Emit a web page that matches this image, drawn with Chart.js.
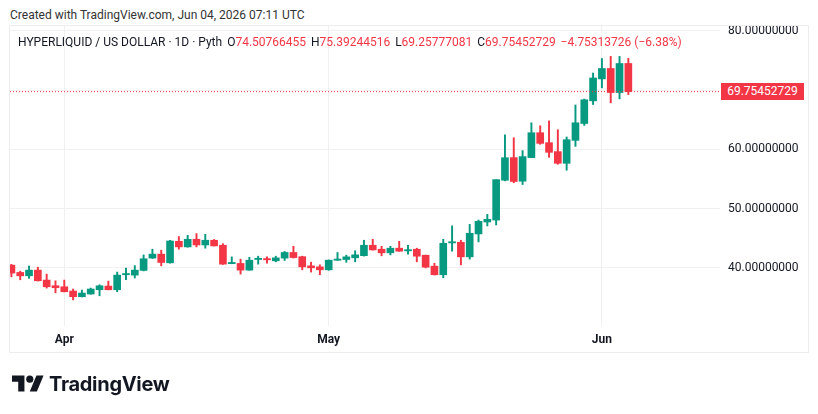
<!DOCTYPE html>
<html>
<head>
<meta charset="utf-8">
<title>HYPERLIQUID / US DOLLAR · 1D</title>
<script src="https://cdn.jsdelivr.net/npm/chart.js@4.4.1/dist/chart.umd.min.js"></script>
<style>
  html, body { margin: 0; padding: 0; background: #ffffff; }
  body { width: 818px; height: 414px; position: relative; overflow: hidden;
         font-family: Roboto, "Noto Sans", sans-serif; color: #131722; }
  #wrap { position: absolute; left: 0; top: 0; width: 818px; height: 414px; }
  #frame { position: absolute; left: 9px; top: 25px; width: 800px; height: 328px;
           box-sizing: border-box; border: 1px solid #ededed; pointer-events: none; }
  #created { position: absolute; left: 10px; top: 8px; font-size: 12px; color: #333; white-space: nowrap; }
  #legend { position: absolute; left: 18px; top: 35px; font-size: 12px; white-space: nowrap; }
  #legend .v { color: #f23645; }
  #legend .g { margin-left: 2px; }
  #lastPrice { position: absolute; left: 721px; width: 83px; height: 17px; line-height: 17px;
               background: #f23645; color: #fff; font-size: 12px; text-align: center; }
  #logo { position: absolute; left: 12px; top: 371px; height: 26px; display: flex; align-items: center; }
  #logo span { font-family: Inter, sans-serif; font-weight: 700; font-size: 20px; letter-spacing: -0.3px;
               color: #131722; margin-left: 5px; }
</style>
</head>
<body>
<div id="created">Created with TradingView.com, Jun 04, 2026 07:11 UTC</div>
<div id="wrap"><canvas id="chart" width="818" height="414"></canvas></div>
<div id="frame"></div>
<div id="legend">HYPERLIQUID / US DOLLAR · 1D · Pyth
  <span class="g">O</span><span class="v">74.50766455</span>
  <span class="g">H</span><span class="v">75.39244516</span>
  <span class="g">L</span><span class="v">69.25777081</span>
  <span class="g">C</span><span class="v">69.75452729</span>
  <span class="v g">−4.75313726 (−6.38%)</span></div>
<div id="lastPrice">69.75452729</div>
<div id="logo">
  <svg width="32" height="25" viewBox="0 0 36 28"><path fill="#131722" d="M14 22H7V11H0V4h14v18zM28 22h-8l7.5-18h8L28 22z"/><circle fill="#131722" cx="20" cy="8" r="4"/></svg>
  <span>TradingView</span>
</div>
<script>
(function () {
  "use strict";

  /* ── daily candles, Mar 26 → Jun 04 ── */
  const DATES = [
    "Mar 26", "Mar 27", "Mar 28", "Mar 29", "Mar 30", "Mar 31",
    "Apr 01", "Apr 02", "Apr 03", "Apr 04", "Apr 05", "Apr 06", "Apr 07", "Apr 08", "Apr 09", "Apr 10",
    "Apr 11", "Apr 12", "Apr 13", "Apr 14", "Apr 15", "Apr 16", "Apr 17", "Apr 18", "Apr 19", "Apr 20",
    "Apr 21", "Apr 22", "Apr 23", "Apr 24", "Apr 25", "Apr 26", "Apr 27", "Apr 28", "Apr 29", "Apr 30",
    "May 01", "May 02", "May 03", "May 04", "May 05", "May 06", "May 07", "May 08", "May 09", "May 10",
    "May 11", "May 12", "May 13", "May 14", "May 15", "May 16", "May 17", "May 18", "May 19", "May 20",
    "May 21", "May 22", "May 23", "May 24", "May 25", "May 26", "May 27", "May 28", "May 29", "May 30",
    "May 31", "Jun 01", "Jun 02", "Jun 03", "Jun 04"
  ];
  const OPEN = [
    40.47, 39.24, 38.67, 39.63, 37.95, 37.00,
    36.82, 36.10, 35.14, 35.60, 36.32, 36.94, 36.32, 38.85, 38.79, 39.58,
    41.66, 42.33, 40.86, 44.50, 43.55, 44.84, 43.88, 44.67, 43.83, 40.72,
    40.76, 39.63, 41.43, 41.53, 41.20, 41.66, 42.61, 41.90, 40.35, 40.18,
    39.68, 41.30, 41.42, 41.71, 42.07, 43.83, 43.16, 42.55, 43.33, 42.88,
    43.16, 42.15, 40.30, 38.85, 44.22, 44.33, 41.87, 45.74, 47.75, 48.08,
    54.80, 58.62, 54.64, 58.62, 62.82, 61.14, 59.63, 57.66, 61.53, 64.38,
    68.20, 71.90, 73.66, 69.60, 74.50766455
  ];
  const HIGH = [
    40.60, 39.46, 40.33, 40.13, 38.96, 37.83,
    37.95, 36.44, 36.27, 36.60, 37.16, 37.78, 39.30, 39.97, 40.40, 42.20,
    43.16, 43.00, 44.66, 45.30, 45.50, 45.80, 45.68, 44.80, 44.10, 41.87,
    41.48, 41.80, 41.98, 41.87, 41.98, 42.78, 43.66, 41.98, 40.97, 40.52,
    41.35, 42.60, 42.15, 42.90, 44.67, 44.84, 43.66, 43.66, 44.50, 43.83,
    43.33, 42.15, 40.80, 44.84, 47.10, 44.67, 47.35, 48.08, 49.04, 54.90,
    62.47, 61.97, 59.80, 64.50, 64.00, 64.82, 63.32, 62.10, 67.50, 68.50,
    72.90, 75.34, 75.70, 75.70, 75.39244516
  ];
  const LOW = [
    38.50, 38.00, 38.24, 37.80, 36.60, 35.80,
    35.96, 34.60, 35.10, 35.55, 35.30, 36.30, 35.98, 38.00, 38.30, 39.50,
    41.60, 40.35, 40.80, 43.16, 43.50, 43.55, 43.33, 43.70, 40.60, 40.70,
    38.96, 39.60, 40.64, 40.80, 41.03, 41.26, 41.66, 39.68, 39.30, 38.85,
    39.60, 41.28, 40.95, 41.03, 42.00, 43.00, 42.05, 42.20, 42.80, 42.32,
    41.03, 40.00, 38.80, 38.34, 42.83, 40.52, 41.48, 44.39, 47.08, 47.25,
    54.70, 54.37, 54.08, 58.60, 60.86, 58.67, 57.50, 56.49, 60.52, 64.05,
    67.58, 70.39, 67.86, 68.54, 69.25777081
  ];
  const CLOSE = [
    39.13, 38.67, 39.63, 37.83, 36.82, 36.66,
    35.98, 35.14, 35.76, 36.44, 36.99, 36.32, 38.79, 38.96, 39.63, 41.55,
    42.33, 40.92, 44.55, 43.55, 44.84, 43.88, 44.67, 43.72, 40.64, 40.84,
    39.63, 41.30, 41.53, 41.37, 41.70, 42.61, 41.75, 40.18, 40.02, 39.68,
    41.31, 41.42, 41.87, 42.21, 43.83, 43.04, 42.55, 43.33, 42.83, 42.99,
    41.98, 40.13, 38.85, 44.16, 44.40, 41.87, 45.85, 47.87, 48.20, 54.90,
    58.60, 54.59, 58.79, 62.82, 61.02, 59.51, 57.66, 61.64, 64.50, 68.38,
    72.06, 73.66, 69.60, 74.50, 69.75452729
  ];
  const LAST_PRICE = 69.75452729;

  const MONTH_TICKS = [6, 36, 67];
  const MONTH_LABELS = ["Apr", "May", "Jun"];
  const PRICE_TICKS = [40, 50, 60, 70, 80];

  /* ── colours ── */
  const UP = "#089981";
  const DOWN = "#f23645";
  const GRID = "#f0f0f0";

  function colorOf(i) { return CLOSE[i] >= OPEN[i] ? UP : DOWN; }

  var bodies = DATES.map(function (d, i) { return { x: i, y: [OPEN[i], CLOSE[i]] }; });
  var wicks = DATES.map(function (d, i) { return { x: i, y: [LOW[i], HIGH[i]] }; });
  var colors = DATES.map(function (d, i) { return colorOf(i); });

  var X_MIN = -0.16, X_MAX = 80.4;

  // keeps the HTML last-price tag on the price scale
  var lastPriceTag = {
    id: "lastPriceTag",
    afterDraw: function (chart) {
      var y = chart.scales.y.getPixelForValue(LAST_PRICE);
      document.getElementById("lastPrice").style.top = (y - 8.5) + "px";
    }
  };

  new Chart(document.getElementById("chart").getContext("2d"), {
    type: "bar",
    data: {
      datasets: [
        {
          type: "line",
          data: [{ x: X_MIN, y: LAST_PRICE }, { x: X_MAX, y: LAST_PRICE }],
          borderColor: DOWN,
          borderWidth: 1,
          borderDash: [1, 2],
          pointRadius: 0,
          order: 0,
        },
        {
          data: bodies,
          backgroundColor: colors,
          borderWidth: 0,
          barThickness: 7,
          minBarLength: 1.2,
          grouped: false,
          order: 1,
        },
        {
          data: wicks,
          backgroundColor: colors,
          borderWidth: 0,
          barThickness: 1.3,
          grouped: false,
          order: 2,
        },
      ],
    },
    options: {
      responsive: false,
      animation: false,
      events: [],
      layout: { padding: { left: 10, top: 25, right: 10, bottom: 62 } },
      plugins: { legend: { display: false }, tooltip: { enabled: false } },
      scales: {
        x: {
          type: "linear",
          min: X_MIN,
          max: X_MAX,
          offset: false,
          bounds: "data",
          afterBuildTicks: function (scale) {
            scale.ticks = MONTH_TICKS.map(function (v) { return { value: v }; });
          },
          afterFit: function (scale) { scale.height = 26; },
          ticks: {
            autoSkip: false,
            maxRotation: 0,
            padding: 7,
            color: "#131722",
            font: { family: "Roboto, sans-serif", size: 12, weight: "bold" },
            callback: function (v) {
              var k = MONTH_TICKS.indexOf(v);
              return k >= 0 ? MONTH_LABELS[k] : "";
            },
          },
          grid: { color: GRID, drawTicks: false, offset: false },
          border: { display: false },
        },
        y: {
          type: "linear",
          position: "right",
          min: 30.2,
          max: 81.0,
          afterBuildTicks: function (scale) {
            scale.ticks = PRICE_TICKS.map(function (v) { return { value: v }; });
          },
          afterFit: function (scale) { scale.width = 88; },
          ticks: {
            padding: 8,
            color: "#131722",
            font: { family: "Roboto, sans-serif", size: 12 },
            callback: function (v) { return v === 70 ? "" : v.toFixed(8); },
          },
          grid: { color: GRID, drawTicks: false },
          border: { display: false },
        },
      },
    },
    plugins: [lastPriceTag],
  });
})();
</script>
</body>
</html>
